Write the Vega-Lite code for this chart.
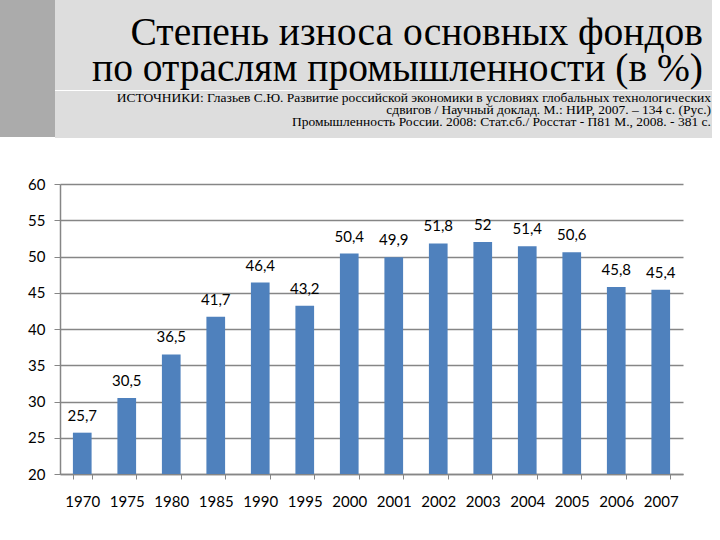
{
  "$schema": "https://vega.github.io/schema/vega-lite/v6.json",
  "padding": 0,
  "background": "white",
  "spacing": 39,
  "config": {
    "view": {"stroke": null},
    "locale": {"number": {"decimal": ",", "thousands": " ", "grouping": [3], "currency": ["", " ₽"]}}
  },
  "vconcat": [
    {
      "spacing": 0,
      "hconcat": [
        {
          "width": 55,
          "height": 137,
          "view": {"fill": "#ababab", "stroke": null},
          "data": {"values": [{"t": ""}]},
          "mark": {"type": "text"},
          "encoding": {"text": {"field": "t"}}
        },
        {
          "spacing": 0,
          "vconcat": [
            {
              "width": 657,
              "height": 90,
              "view": {"fill": "#dddddd", "stroke": null},
              "data": {"values": [
                {"line": "Степень износа основных фондов"},
                {"line": "по отраслям промышленности  (в %)"}
              ]},
              "mark": {"type": "text", "align": "right", "baseline": "alphabetic", "font": "Liberation Serif", "fontSize": 39.5, "color": "#000000", "dx": -9},
              "encoding": {
                "x": {"value": "width"},
                "y": {"field": "line", "type": "ordinal", "sort": null, "axis": null, "scale": {"type": "point", "padding": 0.75, "align": 0.833}},
                "text": {"field": "line"}
              }
            },
            {
              "width": 657,
              "height": 47,
              "view": {"fill": "#dddddd", "stroke": null},
              "data": {"values": [
                {"line": "ИСТОЧНИКИ: Глазьев С.Ю. Развитие российской экономики в условиях глобальных технологических"},
                {"line": "сдвигов / Научный доклад. М.: НИР, 2007. – 134 с. (Рус.)"},
                {"line": "Промышленность России. 2008: Стат.сб./ Росстат - П81      М., 2008. - 381 с."}
              ]},
              "mark": {"type": "text", "align": "right", "baseline": "alphabetic", "font": "Liberation Serif", "fontSize": 13.5, "color": "#000000", "dx": -1},
              "encoding": {
                "x": {"value": "width"},
                "y": {"field": "line", "type": "ordinal", "sort": null, "axis": null, "scale": {"type": "point", "padding": 0.958, "align": 0.478}},
                "text": {"field": "line"}
              }
            }
          ]
        }
      ]
    },
    {
      "spacing": 0,
      "hconcat": [
        {
          "width": 1,
          "height": 290,
          "data": {"values": [{"t": ""}]},
          "mark": {"type": "text"},
          "encoding": {"text": {"field": "t"}}
        },
        {
          "width": 623,
          "height": 290,
          "data": {
            "values": [
              {"year": "1970", "value": 25.7},
              {"year": "1975", "value": 30.5},
              {"year": "1980", "value": 36.5},
              {"year": "1985", "value": 41.7},
              {"year": "1990", "value": 46.4},
              {"year": "1995", "value": 43.2},
              {"year": "2000", "value": 50.4},
              {"year": "2001", "value": 49.9},
              {"year": "2002", "value": 51.8},
              {"year": "2003", "value": 52},
              {"year": "2004", "value": 51.4},
              {"year": "2005", "value": 50.6},
              {"year": "2006", "value": 45.8},
              {"year": "2007", "value": 45.4}
            ]
          },
          "encoding": {
            "x": {
              "field": "year",
              "type": "ordinal",
              "scale": {"paddingInner": 0.58, "paddingOuter": 0.29},
              "axis": {
                "title": null,
                "labelAngle": 0,
                "labelFont": "Lato",
                "labelFontSize": 15,
                "labelColor": "#000000",
                "labelPadding": 15,
                "tickSize": 5,
                "tickBand": "extent",
                "tickColor": "#868686",
                "domainColor": "#868686",
                "domainWidth": 1.5
              }
            },
            "y": {
              "field": "value",
              "type": "quantitative",
              "scale": {"domain": [20, 60], "zero": false, "nice": false},
              "axis": {
                "title": null,
                "values": [20, 25, 30, 35, 40, 45, 50, 55, 60],
                "labelFont": "Lato",
                "labelFontSize": 15,
                "labelColor": "#000000",
                "labelPadding": 9,
                "tickSize": 6,
                "tickColor": "#868686",
                "domainColor": "#868686",
                "domainWidth": 1.5,
                "gridColor": "#868686",
                "gridWidth": 1.5,
                "minExtent": 59,
                "maxExtent": 59
              }
            }
          },
          "layer": [
            {
              "mark": {"type": "bar", "color": "#4f81bd"},
              "encoding": {"y2": {"datum": 20}}
            },
            {
              "mark": {"type": "text", "baseline": "middle", "dy": -17, "fontSize": 15, "font": "Lato", "color": "#000000"},
              "encoding": {"text": {"field": "value", "type": "quantitative", "format": ".1~f"}}
            }
          ]
        }
      ]
    }
  ]
}
